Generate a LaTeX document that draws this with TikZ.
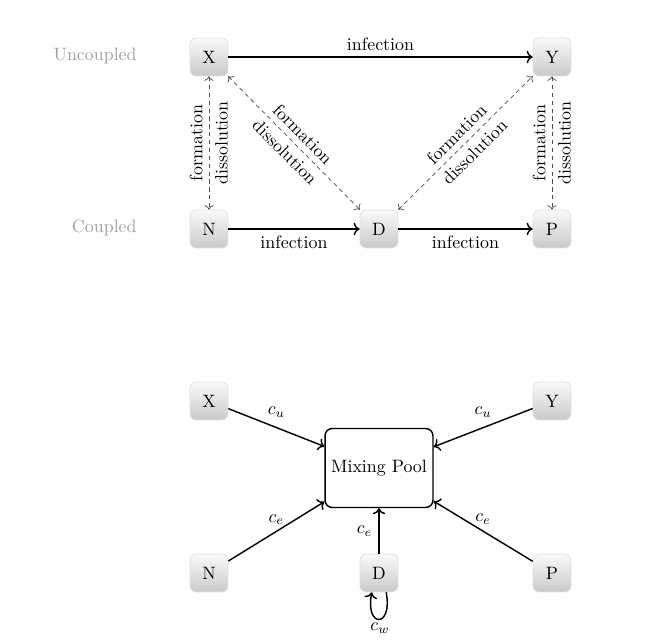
\documentclass[tikz,border=0pt]{standalone}
\usetikzlibrary{arrows.meta}
\begin{document}
\begin{tikzpicture}[x=0.5587pt,y=-0.5587pt,
  state/.style={rectangle, rounded corners=3.5pt, minimum width=21.2pt, minimum height=21.2pt,
    top color=gray!4, bottom color=gray!42, draw=gray!25, inner sep=0pt},
  side/.style={text=gray!75, anchor=east, inner sep=0pt},
  flow/.style={-To, thick},
  dashedge/.style={To-To, thin, dash pattern=on 2.4pt off 2pt, draw=black!70}]
\useasboundingbox (0,0) rectangle (659,643);
% ---------- top diagram ----------
\node[side] (unc) at (137,56) {Uncoupled};
\node[side] (cou) at (137,228) {Coupled};
\node[state] (X) at (209,57) {X};
\node[state] (Y) at (552,57) {Y};
\node[state] (N) at (209,229) {N};
\node[state] (D) at (379,229) {D};
\node[state] (P) at (552,229) {P};
\draw[flow] (X) -- node[above] {infection} (Y);
\draw[flow] (N) -- node[below] {infection} (D);
\draw[flow] (D) -- node[below] {infection} (P);
\draw[dashedge] (X) -- node[midway, rotate=90, anchor=south] {formation}
                       node[midway, rotate=90, anchor=north] {dissolution} (N);
\draw[dashedge] (Y) -- node[midway, rotate=90, anchor=south] {formation}
                       node[midway, rotate=90, anchor=north] {dissolution} (P);
\draw[dashedge] (X) -- node[midway, sloped, above] {formation}
                       node[midway, sloped, below] {dissolution} (D);
\draw[dashedge] (D) -- node[midway, sloped, above] {formation}
                       node[midway, sloped, below] {dissolution} (Y);
% ---------- bottom diagram ----------
\node[state] (X2) at (209,401) {X};
\node[state] (Y2) at (552,401) {Y};
\node[state] (N2) at (209,573) {N};
\node[state] (D2) at (379,573) {D};
\node[state] (P2) at (552,573) {P};
\node[rectangle, rounded corners=4pt, draw, thick, minimum width=60.3pt, minimum height=44.1pt]
  (pool) at (379,468) {Mixing Pool};
\draw[flow] (X2) -- node[midway, above=2pt] {$c_u$} (pool);
\draw[flow] (Y2) -- node[midway, above=2pt] {$c_u$} (pool);
\draw[flow] (N2) -- node[midway, above] {$c_e$} (pool);
\draw[flow] (P2) -- node[midway, above] {$c_e$} (pool);
\draw[flow] (D2) -- node[midway, left] {$c_e$} (pool);
\draw[flow] ([xshift=4pt]D2.south) .. controls +(7,36) and +(-7,36) .. ([xshift=-4pt]D2.south);
\node (cw) at (380,628) {$c_w$};
\end{tikzpicture}
\end{document}
